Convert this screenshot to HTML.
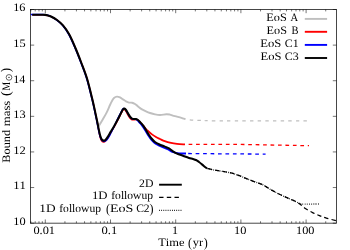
<!DOCTYPE html>
<html><head><meta charset="utf-8"><title>plot</title>
<style>html,body{margin:0;padding:0;background:#fff;}svg{display:block;will-change:transform;}text{font-family:"Liberation Serif",serif;fill:#000;font-kerning:none;text-rendering:geometricPrecision;}</style>
</head><body>
<svg width="350" height="250" viewBox="0 0 350 250">
<rect width="350" height="250" fill="#fff"/>
<path d="M30.84,223.15v-1.90M30.84,9.50v1.90M35.20,223.15v-1.90M35.20,9.50v1.90M38.98,223.15v-1.90M38.98,9.50v1.90M42.32,223.15v-1.90M42.32,9.50v1.90M45.30,223.15v-3.70M45.30,9.50v3.70M64.93,223.15v-1.90M64.93,9.50v1.90M76.41,223.15v-1.90M76.41,9.50v1.90M84.55,223.15v-1.90M84.55,9.50v1.90M90.87,223.15v-1.90M90.87,9.50v1.90M96.04,223.15v-1.90M96.04,9.50v1.90M100.40,223.15v-1.90M100.40,9.50v1.90M104.18,223.15v-1.90M104.18,9.50v1.90M107.52,223.15v-1.90M107.52,9.50v1.90M110.50,223.15v-3.70M110.50,9.50v3.70M130.13,223.15v-1.90M130.13,9.50v1.90M141.61,223.15v-1.90M141.61,9.50v1.90M149.75,223.15v-1.90M149.75,9.50v1.90M156.07,223.15v-1.90M156.07,9.50v1.90M161.24,223.15v-1.90M161.24,9.50v1.90M165.60,223.15v-1.90M165.60,9.50v1.90M169.38,223.15v-1.90M169.38,9.50v1.90M172.72,223.15v-1.90M172.72,9.50v1.90M175.70,223.15v-3.70M175.70,9.50v3.70M195.33,223.15v-1.90M195.33,9.50v1.90M206.81,223.15v-1.90M206.81,9.50v1.90M214.95,223.15v-1.90M214.95,9.50v1.90M221.27,223.15v-1.90M221.27,9.50v1.90M226.44,223.15v-1.90M226.44,9.50v1.90M230.80,223.15v-1.90M230.80,9.50v1.90M234.58,223.15v-1.90M234.58,9.50v1.90M237.92,223.15v-1.90M237.92,9.50v1.90M240.90,223.15v-3.70M240.90,9.50v3.70M260.53,223.15v-1.90M260.53,9.50v1.90M272.01,223.15v-1.90M272.01,9.50v1.90M280.15,223.15v-1.90M280.15,9.50v1.90M286.47,223.15v-1.90M286.47,9.50v1.90M291.64,223.15v-1.90M291.64,9.50v1.90M296.00,223.15v-1.90M296.00,9.50v1.90M299.78,223.15v-1.90M299.78,9.50v1.90M303.12,223.15v-1.90M303.12,9.50v1.90M306.10,223.15v-3.70M306.10,9.50v3.70M325.73,223.15v-1.90M325.73,9.50v1.90M30.50,223.15h3.70M336.50,223.15h-3.70M30.50,187.54h3.70M336.50,187.54h-3.70M30.50,151.93h3.70M336.50,151.93h-3.70M30.50,116.33h3.70M336.50,116.33h-3.70M30.50,80.72h3.70M336.50,80.72h-3.70M30.50,45.11h3.70M336.50,45.11h-3.70M30.50,9.50h3.70M336.50,9.50h-3.70" stroke="#000" stroke-width="0.55" fill="none"/>
<g fill="none" stroke-linejoin="round" stroke-linecap="butt">
<path d="M32.20,14.70 C32.83,14.70 34.70,14.70 36.00,14.70 C37.30,14.70 38.83,14.70 40.00,14.70 C41.17,14.70 42.13,14.67 43.00,14.70 C43.87,14.72 44.50,14.76 45.20,14.85 C45.90,14.94 46.23,14.97 47.20,15.25 C48.17,15.53 49.37,15.71 51.00,16.50 C52.63,17.29 55.00,18.52 57.00,20.00 C59.00,21.48 61.00,23.05 63.00,25.40 C65.00,27.75 67.00,30.50 69.00,34.10 C71.00,37.70 73.00,42.35 75.00,47.00 C77.00,51.65 79.00,56.75 81.00,62.00 C83.00,67.25 85.08,72.17 87.00,78.50 C88.92,84.83 91.12,94.32 92.50,100.00 C93.88,105.68 94.52,109.00 95.30,112.60 C96.08,116.20 96.72,119.43 97.20,121.60 C97.68,123.77 98.03,124.93 98.20,125.60" stroke="#bfbfbf" stroke-width="1.2"/>
<path d="M97.20,121.60 C97.37,122.27 97.90,124.90 98.20,125.60 C98.50,126.30 98.73,126.02 99.00,125.80 C99.27,125.58 99.13,125.45 99.80,124.30 C100.47,123.15 101.87,120.85 103.00,118.90 C104.13,116.95 105.43,114.92 106.60,112.60 C107.77,110.28 109.10,106.93 110.00,105.00 C110.90,103.07 111.33,102.17 112.00,101.00 C112.67,99.83 113.17,98.73 114.00,98.00 C114.83,97.27 116.00,96.70 117.00,96.60 C118.00,96.50 119.00,96.93 120.00,97.40 C121.00,97.87 122.00,98.73 123.00,99.40 C124.00,100.07 125.00,100.87 126.00,101.40 C127.00,101.93 128.00,102.38 129.00,102.60 C130.00,102.82 131.00,102.47 132.00,102.70 C133.00,102.93 134.00,103.38 135.00,104.00 C136.00,104.62 136.83,105.50 138.00,106.40 C139.17,107.30 140.67,108.57 142.00,109.40 C143.33,110.23 144.67,110.80 146.00,111.40 C147.33,112.00 148.50,112.50 150.00,113.00 C151.50,113.50 153.33,114.07 155.00,114.40 C156.67,114.73 158.10,115.03 160.00,115.00 C161.90,114.97 164.73,114.27 166.40,114.20 C168.07,114.13 168.93,114.37 170.00,114.60 C171.07,114.83 171.65,115.27 172.80,115.60 C173.95,115.93 175.47,116.23 176.90,116.60 C178.33,116.97 179.97,117.37 181.40,117.80 C182.83,118.23 184.82,118.97 185.50,119.20" stroke="#bfbfbf" stroke-width="1.9"/>
<path d="M185.50,119.20 C186.73,119.35 189.77,119.88 192.90,120.10 C196.03,120.32 200.50,120.38 204.30,120.50 C208.10,120.62 198.40,120.73 215.70,120.80 C233.00,120.87 292.70,120.88 308.10,120.90" stroke="#bfbfbf" stroke-width="1.25" stroke-dasharray="3.4 4.21" stroke-dashoffset="3.2"/>
<path d="M32.20,14.90 C32.83,14.90 34.70,14.90 36.00,14.90 C37.30,14.90 38.80,14.90 40.00,14.90 C41.20,14.90 42.30,14.88 43.20,14.90 C44.10,14.93 44.70,14.96 45.40,15.05 C46.10,15.14 46.43,15.19 47.40,15.45 C48.37,15.71 49.60,15.84 51.20,16.60 C52.80,17.36 55.03,18.53 57.00,20.00 C58.97,21.47 61.00,23.05 63.00,25.40 C65.00,27.75 67.00,30.50 69.00,34.10 C71.00,37.70 73.00,42.35 75.00,47.00 C77.00,51.65 79.00,56.75 81.00,62.00 C83.00,67.25 85.08,72.17 87.00,78.50 C88.92,84.83 91.12,94.32 92.50,100.00 C93.88,105.68 94.52,108.97 95.30,112.60 C96.08,116.23 96.60,118.73 97.20,121.80 C97.80,124.87 98.43,128.50 98.90,131.00 C99.37,133.50 99.58,135.20 100.00,136.80 C100.42,138.40 100.83,139.72 101.40,140.60 C101.97,141.48 102.73,141.98 103.40,142.10 C104.07,142.22 104.58,142.10 105.40,141.30 C106.22,140.50 107.38,138.77 108.30,137.30 C109.22,135.83 109.90,134.27 110.90,132.50 C111.90,130.73 113.15,128.75 114.30,126.70 C115.45,124.65 116.67,122.38 117.80,120.20 C118.93,118.02 120.23,115.30 121.10,113.60 C121.97,111.90 122.45,110.70 123.00,110.00 C123.55,109.30 123.90,109.15 124.40,109.40 C124.90,109.65 125.40,110.53 126.00,111.50 C126.60,112.47 127.33,114.05 128.00,115.20 C128.67,116.35 129.33,117.63 130.00,118.40 C130.67,119.17 131.33,119.57 132.00,119.80 C132.67,120.03 133.33,119.83 134.00,119.80 C134.67,119.77 135.33,119.53 136.00,119.60 C136.67,119.67 137.33,119.80 138.00,120.20 C138.67,120.60 139.17,121.13 140.00,122.00 C140.83,122.87 142.17,124.40 143.00,125.40 C143.83,126.40 144.67,127.57 145.00,128.00" stroke="#ff0000" stroke-width="1.4"/>
<path d="M143.00,125.40 C143.33,125.83 144.17,127.07 145.00,128.00 C145.83,128.93 146.83,129.93 148.00,131.00 C149.17,132.07 150.67,133.40 152.00,134.40 C153.33,135.40 154.67,136.23 156.00,137.00 C157.33,137.77 158.53,138.30 160.00,139.00 C161.47,139.70 162.97,140.55 164.80,141.20 C166.63,141.85 168.97,142.47 171.00,142.90 C173.03,143.33 174.67,143.55 177.00,143.80 C179.33,144.05 183.67,144.30 185.00,144.40" stroke="#ff0000" stroke-width="1.8"/>
<path d="M188.60,144.40 L240.00,144.40 L309.00,145.70" stroke="#ff0000" stroke-width="1.3" stroke-dasharray="3.7 3.75"/>
<path d="M30.80,14.50 C31.67,14.50 34.47,14.50 36.00,14.50 C37.53,14.50 38.87,14.50 40.00,14.50 C41.13,14.50 41.97,14.47 42.80,14.50 C43.63,14.53 44.30,14.60 45.00,14.70 C45.70,14.80 46.03,14.80 47.00,15.10 C47.97,15.40 49.18,15.65 50.80,16.50 C52.42,17.35 54.72,18.68 56.70,20.20 C58.68,21.72 60.70,23.25 62.70,25.60 C64.70,27.95 66.70,30.70 68.70,34.30 C70.70,37.90 72.70,42.55 74.70,47.20 C76.70,51.85 78.70,56.95 80.70,62.20 C82.70,67.45 84.78,72.37 86.70,78.70 C88.62,85.03 90.82,94.52 92.20,100.20 C93.58,105.88 94.22,109.20 95.00,112.80 C95.78,116.40 96.28,118.80 96.90,121.80 C97.52,124.80 98.18,128.38 98.70,130.80 C99.22,133.22 99.53,134.80 100.00,136.30 C100.47,137.80 100.87,138.93 101.50,139.80 C102.13,140.67 103.02,141.37 103.80,141.50 C104.58,141.63 105.35,141.37 106.20,140.60 C107.05,139.83 108.05,138.28 108.90,136.90 C109.75,135.52 110.40,134.07 111.30,132.30 C112.20,130.53 113.30,128.42 114.30,126.30 C115.30,124.18 116.25,121.82 117.30,119.60 C118.35,117.38 119.72,114.73 120.60,113.00 C121.48,111.27 122.00,109.93 122.60,109.20 C123.20,108.47 123.63,108.40 124.20,108.60 C124.77,108.80 125.37,109.53 126.00,110.40 C126.63,111.27 127.33,112.70 128.00,113.80 C128.67,114.90 129.33,116.13 130.00,117.00 C130.67,117.87 131.33,118.60 132.00,119.00 C132.67,119.40 133.33,119.32 134.00,119.40 C134.67,119.48 135.33,119.30 136.00,119.50 C136.67,119.70 137.40,120.08 138.00,120.60 C138.60,121.12 139.33,122.27 139.60,122.60" stroke="#0000ff" stroke-width="1.4"/>
<path d="M138.00,120.60 C138.27,120.93 138.85,121.67 139.60,122.60 C140.35,123.53 141.52,124.83 142.50,126.20 C143.48,127.57 144.50,129.20 145.50,130.80 C146.50,132.40 147.50,134.27 148.50,135.80 C149.50,137.33 150.48,138.78 151.50,140.00 C152.52,141.22 153.42,142.20 154.60,143.10 C155.78,144.00 156.97,144.58 158.60,145.40 C160.23,146.22 162.73,147.27 164.40,148.00 C166.07,148.73 167.27,149.15 168.60,149.80 C169.93,150.45 171.33,151.43 172.40,151.90 C173.47,152.37 173.90,152.35 175.00,152.60 C176.10,152.85 177.17,153.25 179.00,153.40 C180.83,153.55 184.83,153.48 186.00,153.50" stroke="#0000ff" stroke-width="1.8"/>
<path d="M188.20,153.50 L220.00,153.80 L265.60,154.10" stroke="#0000ff" stroke-width="1.3" stroke-dasharray="3.7 3.75"/>
<path d="M32.20,14.70 C32.83,14.70 34.70,14.70 36.00,14.70 C37.30,14.70 38.83,14.70 40.00,14.70 C41.17,14.70 42.13,14.67 43.00,14.70 C43.87,14.72 44.50,14.76 45.20,14.85 C45.90,14.94 46.23,14.97 47.20,15.25 C48.17,15.53 49.37,15.71 51.00,16.50 C52.63,17.29 55.00,18.52 57.00,20.00 C59.00,21.48 61.00,23.05 63.00,25.40 C65.00,27.75 67.00,30.50 69.00,34.10 C71.00,37.70 73.00,42.35 75.00,47.00 C77.00,51.65 79.00,56.75 81.00,62.00 C83.00,67.25 85.08,72.17 87.00,78.50 C88.92,84.83 91.12,94.32 92.50,100.00 C93.88,105.68 94.52,109.00 95.30,112.60 C96.08,116.20 96.58,118.60 97.20,121.60 C97.82,124.60 98.48,128.20 99.00,130.60 C99.52,133.00 99.85,134.55 100.30,136.00 C100.75,137.45 101.17,138.53 101.70,139.30 C102.23,140.07 102.88,140.48 103.50,140.60 C104.12,140.72 104.63,140.70 105.40,140.00 C106.17,139.30 107.22,137.75 108.10,136.40 C108.98,135.05 109.70,133.60 110.70,131.90 C111.70,130.20 112.95,128.22 114.10,126.20 C115.25,124.18 116.45,122.00 117.60,119.80 C118.75,117.60 120.10,114.73 121.00,113.00 C121.90,111.27 122.43,110.13 123.00,109.40 C123.57,108.67 123.90,108.50 124.40,108.60 C124.90,108.70 125.40,109.20 126.00,110.00 C126.60,110.80 127.33,112.30 128.00,113.40 C128.67,114.50 129.33,115.73 130.00,116.60 C130.67,117.47 131.33,118.20 132.00,118.60 C132.67,119.00 133.33,118.92 134.00,119.00 C134.67,119.08 135.33,118.93 136.00,119.10 C136.67,119.27 137.33,119.52 138.00,120.00 C138.67,120.48 139.17,121.10 140.00,122.00 C140.83,122.90 142.00,124.07 143.00,125.40 C144.00,126.73 145.00,128.40 146.00,130.00 C147.00,131.60 148.00,133.50 149.00,135.00 C150.00,136.50 151.00,137.83 152.00,139.00 C153.00,140.17 153.83,141.13 155.00,142.00 C156.17,142.87 157.37,143.43 159.00,144.20 C160.63,144.97 163.13,145.90 164.80,146.60 C166.47,147.30 167.63,147.60 169.00,148.40 C170.37,149.20 171.67,150.53 173.00,151.40 C174.33,152.27 175.67,153.00 177.00,153.60 C178.33,154.20 179.67,154.50 181.00,155.00 C182.33,155.50 183.67,156.10 185.00,156.60 C186.33,157.10 187.67,157.60 189.00,158.00 C190.33,158.40 191.83,158.67 193.00,159.00 C194.17,159.33 195.00,159.50 196.00,160.00 C197.00,160.50 198.00,161.27 199.00,162.00 C200.00,162.73 201.00,163.57 202.00,164.40 C203.00,165.23 204.17,166.33 205.00,167.00 C205.83,167.67 206.67,168.17 207.00,168.40" stroke="#000" stroke-width="2.1"/>
<path d="M207.00,168.40 C208.17,168.67 211.83,169.57 214.00,170.00 C216.17,170.43 218.00,170.67 220.00,171.00 C222.00,171.33 224.00,171.63 226.00,172.00 C228.00,172.37 230.00,172.67 232.00,173.20 C234.00,173.73 236.00,174.47 238.00,175.20 C240.00,175.93 242.00,176.80 244.00,177.60 C246.00,178.40 248.00,179.22 250.00,180.00 C252.00,180.78 254.00,181.57 256.00,182.30 C258.00,183.03 260.33,183.68 262.00,184.40 C263.67,185.12 264.55,185.73 266.00,186.60 C267.45,187.47 268.48,188.33 270.70,189.60 C272.92,190.87 276.43,192.78 279.30,194.20 C282.17,195.62 285.05,196.82 287.90,198.10 C290.75,199.38 294.20,200.75 296.40,201.90 C298.60,203.05 299.55,203.87 301.10,205.00 C302.65,206.13 303.78,207.43 305.70,208.70 C307.62,209.97 310.32,211.45 312.60,212.60 C314.88,213.75 317.12,214.68 319.40,215.60 C321.68,216.52 323.53,217.27 326.30,218.10 C329.07,218.93 334.38,220.18 336.00,220.60" stroke="#000" stroke-width="1.25" stroke-dasharray="4.4 3.1" stroke-dashoffset="-0.8"/>
<path d="M207.00,168.40 C208.17,168.67 211.83,169.57 214.00,170.00 C216.17,170.43 218.00,170.67 220.00,171.00 C222.00,171.33 224.00,171.63 226.00,172.00 C228.00,172.37 230.00,172.67 232.00,173.20 C234.00,173.73 236.00,174.47 238.00,175.20 C240.00,175.93 242.00,176.80 244.00,177.60 C246.00,178.40 248.00,179.22 250.00,180.00 C252.00,180.78 254.00,181.57 256.00,182.30 C258.00,183.03 260.33,183.68 262.00,184.40 C263.67,185.12 264.55,185.73 266.00,186.60 C267.45,187.47 268.48,188.33 270.70,189.60 C272.92,190.87 276.43,192.78 279.30,194.20 C282.17,195.62 285.05,196.82 287.90,198.10 C290.75,199.38 294.55,201.02 296.40,201.90 C298.25,202.78 298.23,203.05 299.00,203.40 C299.77,203.75 297.60,203.90 301.00,204.00 C304.40,204.10 316.33,204.00 319.40,204.00" stroke="#000" stroke-width="1.3" stroke-dasharray="0.75 1.4"/>
</g>
<rect x="30.50" y="9.50" width="306.00" height="213.65" fill="none" stroke="#000" stroke-width="0.72"/>
<text transform="translate(266.25,20.90) scale(1.0797,1.000)" font-size="11.40">EoS</text>
<text transform="translate(290.60,20.90) scale(0.9206,1.000)" font-size="11.40">A</text>
<path d="M304.8,18.9H327.1" stroke="#bfbfbf" stroke-width="1.9" fill="none"/>
<text transform="translate(266.55,33.90) scale(1.0741,1.000)" font-size="11.40">EoS</text>
<text transform="translate(291.60,33.90) scale(0.9228,1.000)" font-size="11.40">B</text>
<path d="M304.8,31.8H327.1" stroke="#ff0000" stroke-width="1.9" fill="none"/>
<text transform="translate(260.34,46.90) scale(1.1075,1.000)" font-size="11.40">EoS</text>
<text transform="translate(284.82,46.90) scale(1.0369,1.000)" font-size="11.40">C1</text>
<path d="M304.8,44.9H327.1" stroke="#0000ff" stroke-width="1.9" fill="none"/>
<text transform="translate(260.54,59.90) scale(1.1019,1.000)" font-size="11.40">EoS</text>
<text transform="translate(284.81,59.90) scale(1.0492,1.000)" font-size="11.40">C3</text>
<path d="M304.8,58.0H327.1" stroke="#000" stroke-width="1.9" fill="none"/>
<text transform="translate(139.08,186.50) scale(1.0327,1.000)" font-size="11.40">2D</text>
<text transform="translate(91.88,199.40) scale(1.1223,1.000)" font-size="11.40">1D</text>
<text transform="translate(111.24,199.40) scale(1.0157,1.000)" font-size="11.40">followup</text>
<text transform="translate(39.23,212.20) scale(1.1704,1.000)" font-size="11.40">1D</text>
<text transform="translate(59.24,212.20) scale(1.0157,1.000)" font-size="11.40">followup</text>
<text transform="translate(105.97,212.70) scale(1.0588,1.170)" font-size="11.40">(</text>
<text transform="translate(109.99,212.20) scale(1.2355,1.000)" font-size="11.40">EoS</text>
<text transform="translate(136.13,212.20) scale(1.0158,1.000)" font-size="11.40">C2</text>
<text transform="translate(149.61,212.70) scale(1.0588,1.170)" font-size="11.40">)</text>
<path d="M159.1,184.7H181.8" stroke="#000" stroke-width="1.9" fill="none"/>
<path d="M159.1,197.4H181.8" stroke="#000" stroke-width="1.35" stroke-dasharray="4.4 3.3" fill="none"/>
<path d="M159.1,210.4H181.8" stroke="#000" stroke-width="1.3" stroke-dasharray="0.8 1.35" fill="none"/>
<text transform="translate(13.21,225.05) scale(1.0839,1.000)" font-size="11.40">10</text>
<text transform="translate(13.19,189.44) scale(1.1119,1.000)" font-size="11.40">11</text>
<text transform="translate(13.19,153.83) scale(1.1055,1.000)" font-size="11.40">12</text>
<text transform="translate(13.21,118.23) scale(1.0851,1.000)" font-size="11.40">13</text>
<text transform="translate(13.24,82.62) scale(1.0568,1.000)" font-size="11.40">14</text>
<text transform="translate(13.21,47.01) scale(1.0851,1.000)" font-size="11.40">15</text>
<text transform="translate(13.22,11.40) scale(1.0737,1.000)" font-size="11.40">16</text>
<text transform="translate(33.43,233.60) scale(1.0833,1.000)" font-size="11.40">0.01</text>
<text transform="translate(101.52,233.60) scale(1.1042,1.000)" font-size="11.40">0.1</text>
<text transform="translate(171.93,233.60) scale(1.0714,1.000)" font-size="11.40">1</text>
<text transform="translate(234.11,233.60) scale(1.0839,1.000)" font-size="11.40">10</text>
<text transform="translate(296.02,233.60) scale(1.0789,1.000)" font-size="11.40">100</text>
<text transform="translate(158.18,246.30) scale(1.0914,1.000)" font-size="11.40">Time</text>
<text transform="translate(188.07,246.80) scale(1.0588,1.170)" font-size="11.40">(</text>
<text transform="translate(192.85,246.30) scale(1.0803,1.000)" font-size="11.40">yr</text>
<text transform="translate(203.71,246.80) scale(1.0588,1.170)" font-size="11.40">)</text>
<g transform="translate(9.5,162.5) rotate(-90)">
<text transform="translate(-0.15,0.00) scale(1.0756,1.000)" font-size="11.40">Bound</text>
<text transform="translate(36.33,0.00) scale(1.1197,1.000)" font-size="11.40">mass</text>
<text transform="translate(66.58,0.50) scale(1.2295,1.170)" font-size="11.40">(</text>
<text transform="translate(72.02,0.00) scale(0.8444,1.000)" font-size="11.40">M</text>
<text transform="translate(90.17,0.50) scale(1.1612,1.170)" font-size="11.40">)</text>
<circle cx="85.1" cy="-0.5" r="2.85" fill="none" stroke="#000" stroke-width="0.6"/><circle cx="85.1" cy="-0.5" r="0.6" fill="#000"/>
</g>
</svg></body></html>
